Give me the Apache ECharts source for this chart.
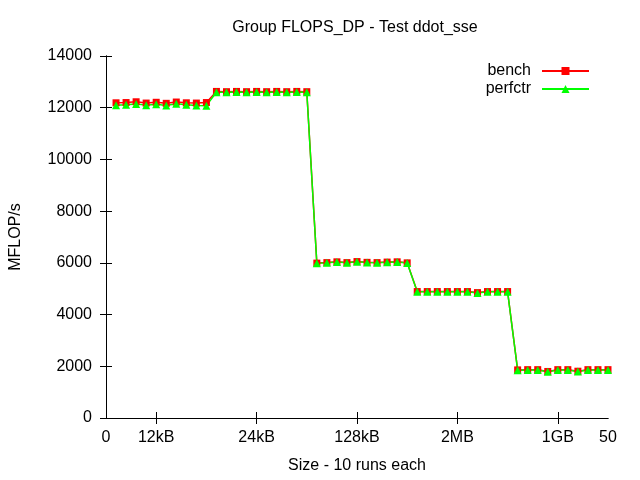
<!DOCTYPE html>
<html>
<head>
<meta charset="utf-8">
<script src="https://cdn.jsdelivr.net/npm/echarts@6/dist/echarts.min.js"></script>
<style>html,body{margin:0;padding:0;background:#fff}#c{width:640px;height:480px}</style>
</head>
<body>
<div id="c"></div>
<script>
var runs = [1,2,3,4,5,6,7,8,9,10,11,12,13,14,15,16,17,18,19,20,21,22,23,24,25,26,27,28,29,30,31,32,33,34,35,36,37,38,39,40,41,42,43,44,45,46,47,48,49,50];
var bench = [12190,12200,12230,12180,12210,12170,12220,12190,12180,12200,
             12630,12620,12630,12620,12630,12620,12630,12620,12630,12620,
             5990,6010,6040,6010,6050,6020,6010,6030,6040,6000,
             4890,4890,4890,4890,4890,4890,4850,4890,4890,4890,
             1860,1870,1870,1800,1870,1870,1810,1870,1870,1870];
var perfctr = [12100,12110,12140,12100,12130,12090,12150,12110,12090,12080,
               12600,12600,12610,12600,12610,12600,12610,12600,12610,12600,
               5980,6000,6030,6000,6040,6010,6000,6020,6030,5990,
               4880,4880,4880,4880,4880,4880,4830,4880,4880,4880,
               1850,1860,1860,1790,1860,1860,1800,1860,1860,1860];
var xTickValues = [0,5,15,25,35,45,50];
var xTickLabels = ['0','12kB','24kB','128kB','2MB','1GB','50'];
var xMinorTicks = [5,15,25,35,45];

function pairs(ys){ return runs.map(function(x,i){ return [x, ys[i]]; }); }

var font = 'Liberation Sans, Arial, sans-serif';
var fs = 16;
var tick = {show: true, inside: false, length: -6, lineStyle: {color: '#000', width: 1}};
var chart = echarts.init(document.getElementById('c'), null, {renderer:'canvas'});
chart.setOption({
  animation: false,
  backgroundColor: '#fff',
  textStyle: {fontFamily: font},
  title: {
    text: 'Group FLOPS_DP - Test ddot_sse',
    left: 350, textAlign: 'center', top: 15,
    textStyle: {fontFamily: font, fontSize: fs, fontWeight: 'normal', color: '#000'}
  },
  legend: [{
    data: ['bench'], orient: 'vertical', align: 'right', padding: 0,
    right: 50, top: 63, itemWidth: 47, itemHeight: 10,
    textStyle: {fontFamily: font, fontSize: fs, color: '#000', padding: [0, 6, 0, 0]}
  },{
    data: ['perfctr'], orient: 'vertical', align: 'right', padding: 0,
    right: 50, top: 81, itemWidth: 47, itemHeight: 10,
    textStyle: {fontFamily: font, fontSize: fs, color: '#000', padding: [0, 6, 0, 0]}
  }],
  grid: {left: 105, right: 32, top: 56, bottom: 62, show: false},
  xAxis: [{
    type: 'value', min: 0, max: 50, interval: 5,
    name: 'Size - 10 runs each', nameLocation: 'middle', nameGap: 40,
    nameTextStyle: {fontFamily: font, fontSize: fs, color: '#000'},
    axisLine: {show: true, lineStyle: {color: '#000', width: 1}},
    axisTick: echarts.util.merge({customValues: xMinorTicks}, tick),
    axisLabel: {
      customValues: xTickValues, margin: 12, fontFamily: font, fontSize: fs, color: '#000',
      formatter: function(v){ var i = xTickValues.indexOf(v); return i >= 0 ? xTickLabels[i] : ''; }
    },
    splitLine: {show: false}
  },{
    type: 'value', min: 0, max: 50, interval: 5, position: 'top',
    axisLine: {show: true, lineStyle: {color: '#000', width: 1}},
    axisTick: echarts.util.merge({customValues: xMinorTicks}, tick),
    axisLabel: {show: false}, splitLine: {show: false}
  }],
  yAxis: [{
    type: 'value', min: 0, max: 14000, interval: 2000,
    name: 'MFLOP/s', nameLocation: 'middle', nameGap: 82, nameRotate: 90,
    nameTextStyle: {fontFamily: font, fontSize: fs, color: '#000'},
    axisLine: {show: true, lineStyle: {color: '#000', width: 1}},
    axisTick: echarts.util.clone(tick),
    axisLabel: {margin: 14, fontFamily: font, fontSize: fs, color: '#000',
      formatter: function(v){ return String(v); }},
    splitLine: {show: false}
  },{
    type: 'value', min: 0, max: 14000, interval: 2000, position: 'right',
    axisLine: {show: true, lineStyle: {color: '#000', width: 1}},
    axisTick: echarts.util.clone(tick),
    axisLabel: {show: false}, splitLine: {show: false}
  }],
  series: [{
    name: 'bench', type: 'line', data: pairs(bench),
    symbol: 'rect', symbolSize: 7, showAllSymbol: true,
    lineStyle: {color: '#ff0000', width: 1.5},
    itemStyle: {color: '#ff0000'}, color: '#ff0000'
  },{
    name: 'perfctr', type: 'line', data: pairs(perfctr),
    symbol: 'triangle', symbolSize: 8, showAllSymbol: true,
    lineStyle: {color: '#00ff00', width: 1.5},
    itemStyle: {color: '#00ff00'}, color: '#00ff00'
  }]
});
</script>
</body>
</html>
